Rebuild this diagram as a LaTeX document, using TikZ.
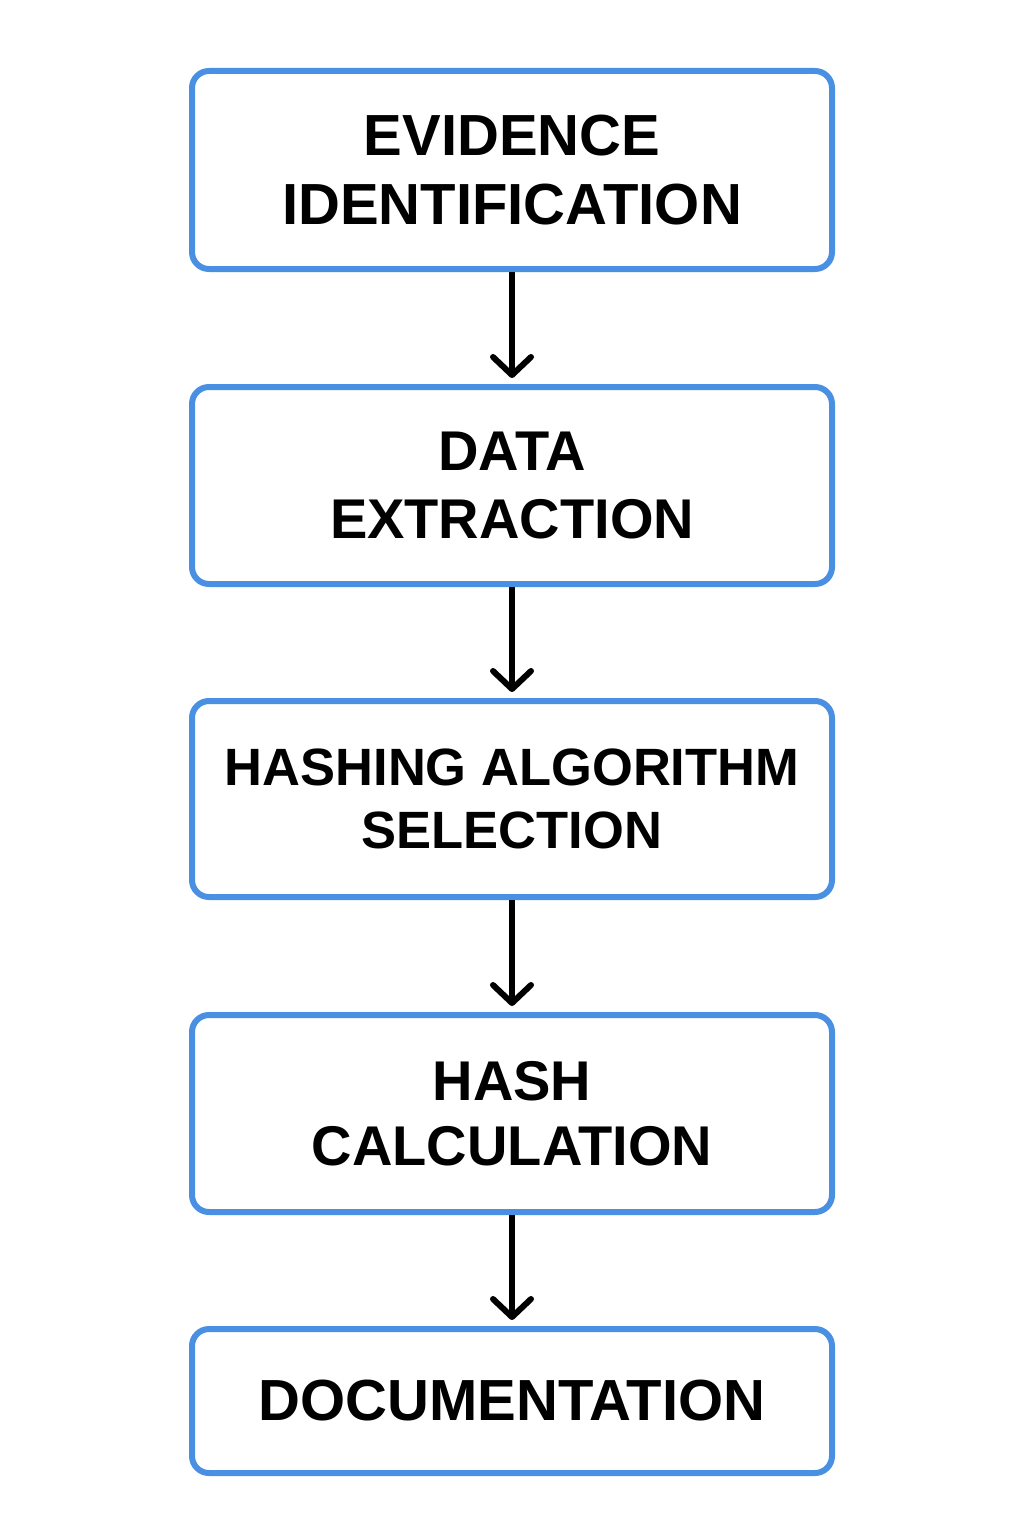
\documentclass[tikz,border=0pt]{standalone}
\usepackage{fontspec}
\setmainfont{Liberation Sans}
\usetikzlibrary{arrows.meta}
\definecolor{boxblue}{HTML}{4A90E2}
\tikzset{
  stepbox/.style={draw=boxblue, line width=6pt, rounded corners=17pt, fill=white,
    minimum width=640pt, align=center, font=\bfseries, text=black, inner sep=0pt},
  flowarrow/.style={line width=6pt, black,
    -{Straight Barb[length=18pt,width=38pt,line width=6pt,round]}, shorten >=6pt}
}
\begin{document}
\begin{tikzpicture}[x=1pt,y=-1pt]
\useasboundingbox[fill=white] (0,0) rectangle (1024,1536);
\node[stepbox, minimum height=198pt, font=\bfseries\fontsize{58}{69}\selectfont] (b1) at (512,170) {EVIDENCE\\IDENTIFICATION};
\node[stepbox, minimum height=197pt, font=\bfseries\fontsize{56}{68}\selectfont] (b2) at (512,485.5) {DATA\\EXTRACTION};
\node[stepbox, minimum height=196pt, font=\bfseries\fontsize{52.5}{63}\selectfont] (b3) at (512,799) {HASHING ALGORITHM\\SELECTION};
\node[stepbox, minimum height=197pt, font=\bfseries\fontsize{56}{65}\selectfont] (b4) at (512,1113.5) {HASH\\CALCULATION};
\node[stepbox, minimum height=144pt, font=\bfseries\fontsize{58}{68}\selectfont] (b5) at (512,1401) {DOCUMENTATION};
\draw[flowarrow] (b1.south) -- (b2.north);
\draw[flowarrow] (b2.south) -- (b3.north);
\draw[flowarrow] (b3.south) -- (b4.north);
\draw[flowarrow] (b4.south) -- (b5.north);
\end{tikzpicture}
\end{document}
